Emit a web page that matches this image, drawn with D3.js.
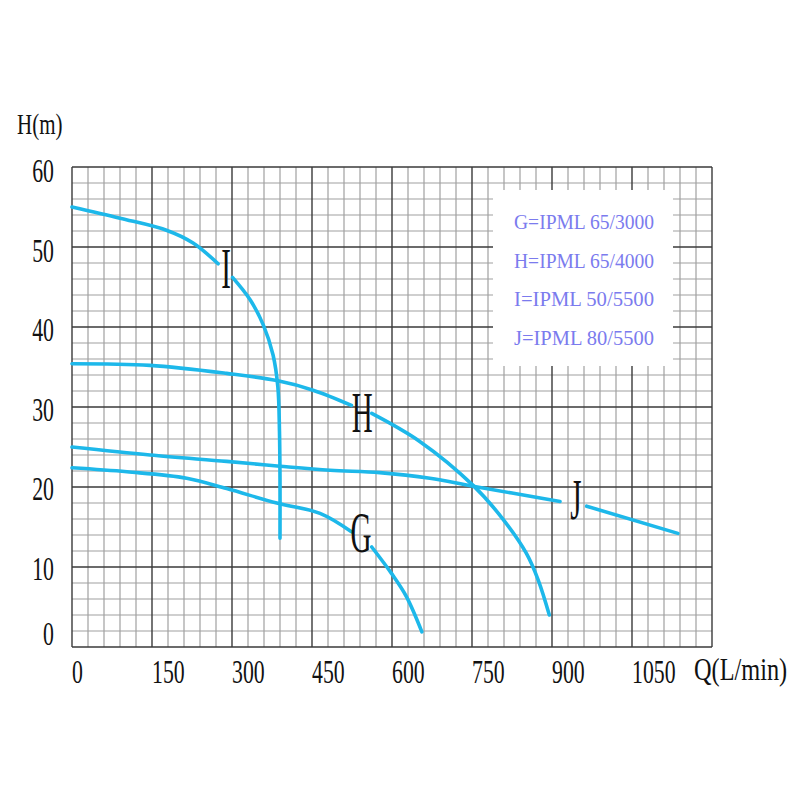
<!DOCTYPE html>
<html>
<head>
<meta charset="utf-8">
<script src="https://cdn.jsdelivr.net/npm/d3@7"></script>
<style>
  body{margin:0;background:#fff}
  text{font-family:"Liberation Serif",serif}
</style>
</head>
<body>
<script>
// axis ticks
const qTicks = [0,150,300,450,600,750,900,1050]
const hTicks = [0,10,20,30,40,50,60]

// pump curves [Q L/min, H m], null marks the break under the curve letter
const curveG = [[0,22.4],[103,21.9],[215,21.1],[290,19.8],[384,18.0],[465,16.7],[524,14.4],
                [null,null],[562,12.5],[599,9.2],[627,6.3],[656,1.9]]
const curveH = [[0,35.4],[146,35.2],[290,34.2],[384,33.3],[452,32.1],[524,30.2],
                [null,null],[562,29.2],[652,25.7],[752,20.2],[809,15.9],[852,11.7],[874,8.4],[895,4.0]]
const curveI = [[0,55.0],[90,53.6],[177,52.1],[227,50.5],[274,47.9],
                [null,null],[301,46.2],[334,43.4],[359,40.2],[377,36.5],[386,32.5],[389,27],[390,21],[390,13.6]]
const curveJ = [[0,25.0],[146,24.0],[290,23.2],[390,22.6],[484,22.1],[577,21.8],[671,21.1],[752,20.1],[915,18.2],
                [null,null],[965,17.6],[1136,14.2]]

// curve letters and where they sit (Q, H of baseline centre)
const letterNames = ['G','H','I','J']
const letterQ = [542,544,289,945]
const letterH = [11.9,26.9,44.9,16.0]

const legendItems = ['G=IPML 65/3000','H=IPML 65/4000','I=IPML 50/5500','J=IPML 80/5500']

const W = 800, H = 800
const LEFT = 72, RIGHT = 712, TOP = 167, BOTTOM = 647

const svg = d3.select('body').append('svg')
  .attr('width', W).attr('height', H)

const x = d3.scaleLinear().domain([0,1200]).range([LEFT,RIGHT])
const y = d3.scaleLinear().domain([0,60]).range([BOTTOM,TOP])

// grid
const grid = svg.append('g')
const minorQ = d3.range(0,1201,30).filter(v=>v%150!==0)
const minorH = d3.range(0,61,2).filter(v=>v%10!==0)
const majorQ = d3.range(0,1201,150)
const majorH = d3.range(0,61,10)

grid.selectAll('line.mq').data(minorQ).enter().append('line')
  .attr('x1',d=>x(d)).attr('x2',d=>x(d)).attr('y1',TOP).attr('y2',BOTTOM)
  .attr('stroke','#a0a0a0').attr('stroke-width',1.2)
grid.selectAll('line.mh').data(minorH).enter().append('line')
  .attr('y1',d=>y(d)).attr('y2',d=>y(d)).attr('x1',LEFT).attr('x2',RIGHT)
  .attr('stroke','#a0a0a0').attr('stroke-width',1.2)
grid.selectAll('line.Mq').data(majorQ).enter().append('line')
  .attr('x1',d=>x(d)).attr('x2',d=>x(d)).attr('y1',TOP).attr('y2',BOTTOM)
  .attr('stroke','#3a3a3a').attr('stroke-width',1.4)
grid.selectAll('line.Mh').data(majorH).enter().append('line')
  .attr('y1',d=>y(d)).attr('y2',d=>y(d)).attr('x1',LEFT).attr('x2',RIGHT)
  .attr('stroke','#3a3a3a').attr('stroke-width',1.4)

// legend box covers the grid
svg.append('rect')
  .attr('x',493).attr('y',190).attr('width',180).attr('height',176)
  .attr('fill','#fff')

legendItems.forEach((t,i)=>{
  svg.append('text')
    .attr('x',514).attr('y',229 + i*38.7)
    .attr('textLength',140).attr('lengthAdjust','spacingAndGlyphs')
    .attr('font-size',22)
    .attr('fill','#7b7bee')
    .text(t)
})

// curves
const line = d3.line()
  .defined(d=>d[1]!=null)
  .x(d=>x(d[0])).y(d=>y(d[1]))
  .curve(d3.curveCatmullRom.alpha(0.5))

;[curveG,curveH,curveI,curveJ].forEach(c=>{
  svg.append('path')
    .attr('d',line(c))
    .attr('fill','none')
    .attr('stroke','#1db8ea')
    .attr('stroke-width',3.6)
    .attr('stroke-linecap','round')
})

// curve letters
letterNames.forEach((t,i)=>{
  svg.append('text')
    .attr('transform','translate('+x(letterQ[i])+','+y(letterH[i])+') scale(0.5,1)')
    .attr('text-anchor','middle')
    .attr('font-size',58)
    .attr('fill','#111')
    .text(t)
})

// tick labels
svg.selectAll('text.qt').data(qTicks).enter().append('text')
  .attr('transform',d=>'translate('+x(d)+',683) scale(0.64,1)')
  .attr('font-size',34).attr('fill','#111')
  .text(d=>d)

svg.selectAll('text.ht').data(hTicks).enter().append('text')
  .attr('transform',d=>'translate(54,'+(d===0 ? y(d)-2 : y(d)+12+d/20)+') scale(0.64,1)')
  .attr('text-anchor','end')
  .attr('font-size',34).attr('fill','#111')
  .text(d=>d)

// axis titles
svg.append('text')
  .attr('transform','translate(17,134) scale(0.7,1)')
  .attr('font-size',30).attr('fill','#111')
  .text('H(m)')

svg.append('text')
  .attr('transform','translate(694,680) scale(0.76,1)')
  .attr('font-size',32).attr('fill','#111')
  .text('Q(L/min)')
</script>
</body>
</html>
